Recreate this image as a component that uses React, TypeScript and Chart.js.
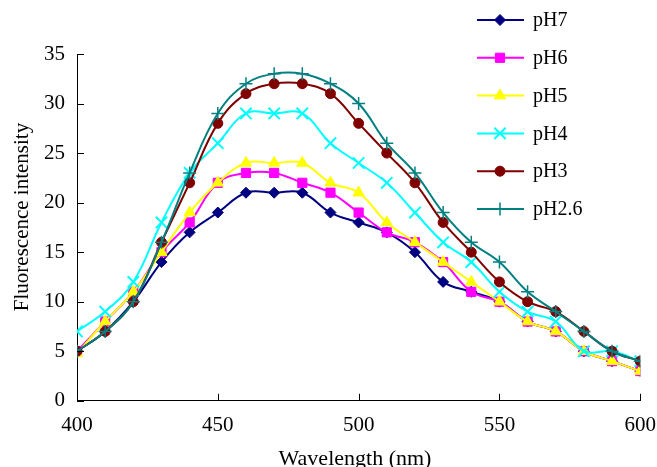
import React, { useEffect, useRef } from 'react';
import { Chart, registerables } from 'chart.js';
import { drawPoint } from 'chart.js/helpers';

Chart.register(...registerables);

const wavelengths = [400, 410, 420, 430, 440, 450, 460, 470, 480, 490, 500, 510, 520, 530, 540, 550, 560, 570, 580, 590, 600];
const pH7 = [5, 7, 10, 14, 17, 19, 21, 21, 21, 19, 18, 17, 15, 12, 11, 10, 8, 7, 5, 4, 3];
const pH6 = [5, 8, 11, 15, 18, 22, 23, 23, 22, 21, 19, 17, 16, 14, 11, 10, 8, 7, 5, 4, 3];
const pH5 = [4.8, 8, 11, 15, 19, 22, 24, 24, 24, 22, 21, 18, 16, 14, 12, 10, 8, 7, 5, 4, 3];
const pH4 = [7, 9, 12, 18, 23, 26, 29, 29, 29, 26, 24, 22, 19, 16, 14, 11, 9, 8, 5, 5, 4];
const pH3 = [5, 7, 10, 16, 22, 28, 31, 32, 32, 31, 28, 25, 22, 18, 15, 12, 10, 9, 7, 5, 4];
const pH26 = [5, 7, 10, 16, 23, 29, 32, 33, 33, 32, 30, 26, 23, 19, 16, 14, 11, 9, 7, 5, 4];
const seriesNames = ['pH7', 'pH6', 'pH5', 'pH4', 'pH3', 'pH2.6'];
const seriesValues = [pH7, pH6, pH5, pH4, pH3, pH26];
const xTicks = [400, 450, 500, 550, 600];
const yTicks = [0, 5, 10, 15, 20, 25, 30, 35];
const xTitle = 'Wavelength (nm)';
const yTitle = 'Fluorescence intensity';

const colors = ['#000080', '#FF00FF', '#FFFF00', '#00FFFF', '#800000', '#008080'];
const pointStyles = ['rectRot', 'rect', 'triangle', 'crossRot', 'circle', 'cross'];
const pointRadii = [5.5, 6.5, 6.5, 8, 5, 6.5];
const pointBorders = [1, 1, 1, 2, 1, 1.5];

const FONT = '"Liberation Serif", "Times New Roman", serif';

const decorPlugin = {
  id: 'decor',
  afterDraw(chart: any) {
    const ctx = chart.ctx as CanvasRenderingContext2D;
    const xs = chart.scales.x;
    const ys = chart.scales.y;
    const area = chart.chartArea;
    ctx.save();
    // inward tick marks
    ctx.strokeStyle = '#000';
    ctx.lineWidth = 1;
    ctx.beginPath();
    for (const v of xTicks) {
      const px = Math.round(xs.getPixelForValue(v)) + 0.5;
      ctx.moveTo(px, area.bottom);
      ctx.lineTo(px, area.bottom - 7);
    }
    for (const v of yTicks) {
      const py = Math.round(ys.getPixelForValue(v)) + 0.5;
      ctx.moveTo(area.left, py);
      ctx.lineTo(area.left + 7, py);
    }
    ctx.stroke();

    // titles
    ctx.fillStyle = '#000';
    ctx.font = `22px ${FONT}`;
    ctx.textAlign = 'center';
    ctx.textBaseline = 'alphabetic';
    ctx.fillText(xTitle, 355, 465);
    ctx.save();
    ctx.translate(28, 217);
    ctx.rotate(-Math.PI / 2);
    ctx.font = `21px ${FONT}`;
    ctx.fillText(yTitle, 0, 0);
    ctx.restore();

    // legend
    const lx0 = 477;
    const lx1 = 524;
    const mx = 500;
    const tx = 533;
    const y0 = 20;
    const dy = 37.8;
    seriesNames.forEach((name, i) => {
      const y = y0 + i * dy;
      ctx.strokeStyle = colors[i];
      ctx.lineWidth = 2;
      ctx.beginPath();
      ctx.moveTo(lx0, y);
      ctx.lineTo(lx1, y);
      ctx.stroke();
      ctx.fillStyle = colors[i];
      ctx.strokeStyle = colors[i];
      ctx.lineWidth = pointBorders[i];
      drawPoint(ctx, { pointStyle: pointStyles[i] as any, radius: pointRadii[i], rotation: 0, borderWidth: pointBorders[i] } as any, mx, y);
      ctx.fillStyle = '#000';
      ctx.font = `20px ${FONT}`;
      ctx.textAlign = 'left';
      ctx.textBaseline = 'middle';
      ctx.fillText(name, tx, y + 1);
    });
    ctx.restore();
  },
};

export default function App() {
  const ref = useRef<HTMLCanvasElement | null>(null);
  useEffect(() => {
    if (!ref.current) return;
    const datasets = seriesNames.map((name, i) => ({
      label: name,
      data: wavelengths.map((w, j) => ({ x: w, y: seriesValues[i][j] })),
      borderColor: colors[i],
      backgroundColor: colors[i],
      pointBackgroundColor: colors[i],
      pointBorderColor: colors[i],
      pointStyle: pointStyles[i],
      pointRadius: pointRadii[i],
      pointBorderWidth: pointBorders[i],
      borderWidth: 2,
      tension: 0.4,
      fill: false,
      order: seriesNames.length - i,
    }));
    const chart = new Chart(ref.current, {
      type: 'line',
      data: { datasets } as any,
      options: {
        animation: false,
        responsive: false,
        maintainAspectRatio: false,
        layout: { padding: { left: 32, right: 3, top: 54, bottom: 17 } },
        plugins: { legend: { display: false }, tooltip: { enabled: false } },
        scales: {
          x: {
            type: 'linear',
            min: 400,
            max: 600,
            afterBuildTicks: (scale: any) => {
              scale.ticks = xTicks.map((v) => ({ value: v }));
            },
            ticks: { color: '#000', font: { family: FONT, size: 21 }, padding: 12, maxRotation: 0 },
            grid: { drawOnChartArea: false, drawTicks: false },
            border: { color: '#000', width: 1 },
          },
          y: {
            type: 'linear',
            min: 0,
            max: 35,
            afterBuildTicks: (scale: any) => {
              scale.ticks = yTicks.map((v) => ({ value: v }));
            },
            ticks: { color: '#000', font: { family: FONT, size: 21 }, padding: 12 },
            grid: { drawOnChartArea: false, drawTicks: false },
            border: { color: '#000', width: 1 },
          },
        },
      } as any,
      plugins: [decorPlugin],
    });
    return () => chart.destroy();
  }, []);
  return (
    <div style={{ position: 'fixed', left: 0, top: 0, width: 657, height: 467, overflow: 'hidden', background: '#fff' }}>
      <canvas ref={ref} width={668} height={467} style={{ display: 'block' }} />
    </div>
  );
}
